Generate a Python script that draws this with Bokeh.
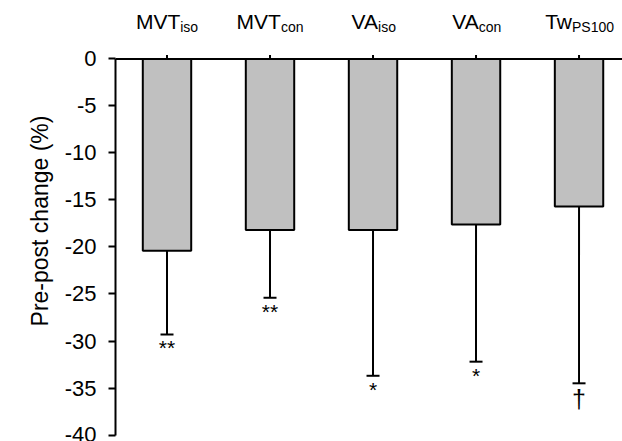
import numpy as np
from bokeh.plotting import figure
from bokeh.models import (Range1d, LinearAxis, FixedTicker, Whisker, TeeHead,
                          ColumnDataSource, Span)
from bokeh.core.properties import value
from bokeh.embed import file_html
from bokeh.resources import INLINE

# ---- data ----
label_main = ["MVT", "MVT", "VA", "VA", "Tw"]
label_sub = ["iso", "con", "iso", "con", "PS100"]
change = [-20.4, -18.2, -18.2, -17.6, -15.7]      # mean pre-post change (%)
sd = [8.9, 7.2, 15.5, 14.6, 18.8]                  # error (one-sided, downward)
signif = ["**", "**", "*", "*", "\u2020"]
y_ticks = [0, -5, -10, -15, -20, -25, -30, -35, -40]
y_tick_labels = ["0", "-5", "-10", "-15", "-20", "-25", "-30", "-35", "-40"]

# ---- styling ----
FONT = "Liberation Sans"
MAIN_PX = 21
SUB_PX = 14
TICK_PX = 22
ARIAL_W = {"M": .833, "V": .667, "T": .611, "A": .667, "w": .722, "P": .667,
           "S": .667, "i": .222, "s": .5, "o": .556, "c": .5, "n": .556}
def text_w(s, px):
    return sum(ARIAL_W.get(ch, .556) for ch in s) * px

n = len(change)
xpos = np.arange(n) + 0.5
lower = [c - e for c, e in zip(change, sd)]
half_offsets = [(text_w(m, MAIN_PX) - text_w(s, SUB_PX)) / 2
                for m, s in zip(label_main, label_sub)]
sig_sizes = ["25px" if s == "\u2020" else f"{MAIN_PX}px" for s in signif]

src = ColumnDataSource(dict(x=xpos, top=[0] * n, bottom=change, lower=lower,
                            upper=change, sig=signif, sig_size=sig_sizes,
                            main=label_main, sub=label_sub, off=half_offsets,
                            ly=[3.95] * n, tick0=[0] * n, tick1=[0.43] * n))

p = figure(width=622, height=441, x_range=Range1d(0, 4.922),
           y_range=Range1d(-40.69, 6.22), output_backend="svg",
           toolbar_location=None, x_axis_location=None, y_axis_location=None,
           min_border_left=115, min_border_right=0, min_border_top=0,
           min_border_bottom=0)
p.outline_line_color = None
p.xgrid.visible = False
p.ygrid.visible = False
p.background_fill_color = "white"
p.border_fill_color = "white"

yax = LinearAxis(ticker=FixedTicker(ticks=y_ticks), bounds=(y_ticks[-1], y_ticks[0]))
yax.major_label_overrides = {t: l for t, l in zip(y_ticks, y_tick_labels)}
yax.minor_tick_line_color = None
yax.major_tick_out = 7
yax.major_tick_in = 0
yax.axis_line_width = 2
yax.major_tick_line_width = 2
yax.major_label_text_font = FONT
yax.major_label_text_font_size = f"{TICK_PX}px"
yax.major_label_text_color = "black"
yax.major_label_standoff = 12
yax.axis_label = "Pre-post change (%)"
yax.axis_label_text_font = FONT
yax.axis_label_text_font_size = "23px"
yax.axis_label_text_font_style = "normal"
yax.axis_label_text_color = "black"
yax.axis_label_standoff = 9
p.add_layout(yax, "left")

# zero line with upward category ticks
p.add_layout(Span(location=0, dimension="width", line_color="black", line_width=2))
p.segment(x0="x", y0="tick0", x1="x", y1="tick1", source=src,
          line_color="black", line_width=2)

# bars
p.vbar(x="x", top="top", bottom="bottom", width=0.47, source=src,
       fill_color="#c0c0c0", line_color="black", line_width=2)

# error bars (downward only)
p.add_layout(Whisker(base="x", lower="lower", upper="upper", source=src,
                     line_color="black", line_width=2, upper_head=None,
                     lower_head=TeeHead(size=13, line_color="black", line_width=2)))

# significance markers
p.text(x="x", y="lower", text="sig", source=src, text_align="center",
       text_baseline="top", y_offset=2, text_font=value(FONT),
       text_font_size="sig_size", text_color="black")

# category labels with subscripts
p.text(x="x", y="ly", text="main", source=src, text_align="right",
       x_offset="off", text_baseline="alphabetic", text_font=value(FONT),
       text_font_size=f"{MAIN_PX}px", text_color="black")
p.text(x="x", y="ly", text="sub", source=src, text_align="left",
       x_offset="off", y_offset=5, text_baseline="alphabetic",
       text_font=value(FONT), text_font_size=f"{SUB_PX}px", text_color="black")

open("out.html", "w").write(file_html(p, INLINE))
